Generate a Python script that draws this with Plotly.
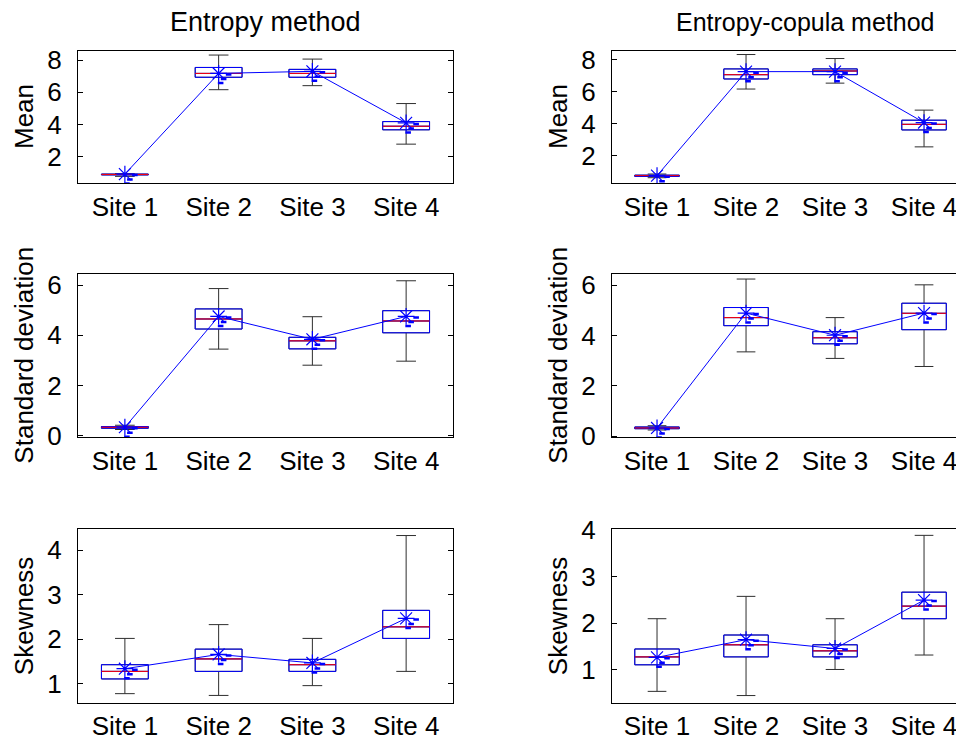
import plotly.graph_objects as go

# ---------------- data ----------------
sites = ["Site 1", "Site 2", "Site 3", "Site 4"]
site_x = [1, 2, 3, 4]

# Entropy method - Mean
ent_mean_lo = [0.78, 6.16, 6.41, 2.78]
ent_mean_q1 = [0.87, 6.93, 6.93, 3.67]
ent_mean_med = [0.90, 7.17, 7.17, 3.89]
ent_mean_q3 = [0.92, 7.54, 7.42, 4.18]
ent_mean_hi = [0.95, 8.31, 8.06, 5.30]
ent_mean_avg = [0.92, 7.17, 7.30, 4.10]

# Entropy method - Standard deviation
ent_std_lo = [0.25, 3.45, 2.81, 2.97]
ent_std_q1 = [0.30, 4.25, 3.46, 4.10]
ent_std_med = [0.34, 4.65, 3.78, 4.57]
ent_std_q3 = [0.37, 5.05, 3.92, 4.98]
ent_std_hi = [0.42, 5.86, 4.74, 6.17]
ent_std_avg = [0.34, 4.75, 3.84, 4.75]

# Entropy method - Skewness
ent_skew_lo = [0.78, 0.74, 0.96, 1.28]
ent_skew_q1 = [1.11, 1.28, 1.28, 2.02]
ent_skew_med = [1.28, 1.56, 1.43, 2.28]
ent_skew_q3 = [1.43, 1.78, 1.55, 2.65]
ent_skew_hi = [2.02, 2.33, 2.02, 4.33]
ent_skew_avg = [1.34, 1.66, 1.47, 2.47]

# Entropy-copula method - Mean
cop_mean_lo = [0.62, 6.17, 6.54, 2.55]
cop_mean_q1 = [0.70, 6.80, 7.07, 3.61]
cop_mean_med = [0.75, 7.07, 7.30, 3.96]
cop_mean_q3 = [0.78, 7.43, 7.43, 4.22]
cop_mean_hi = [0.85, 8.33, 8.08, 4.85]
cop_mean_avg = [0.75, 7.26, 7.26, 4.07]

# Entropy-copula method - Standard deviation
cop_std_lo = [0.25, 3.35, 3.09, 2.77]
cop_std_q1 = [0.30, 4.39, 3.67, 4.23]
cop_std_med = [0.33, 4.71, 3.91, 4.88]
cop_std_q3 = [0.37, 5.11, 4.15, 5.28]
cop_std_hi = [0.42, 6.24, 4.71, 6.01]
cop_std_avg = [0.33, 4.89, 4.01, 4.89]

# Entropy-copula method - Skewness
cop_skew_lo = [0.54, 0.45, 1.01, 1.32]
cop_skew_q1 = [1.11, 1.28, 1.28, 2.10]
cop_skew_med = [1.28, 1.54, 1.41, 2.37]
cop_skew_q3 = [1.45, 1.75, 1.54, 2.67]
cop_skew_hi = [2.10, 2.58, 2.10, 3.89]
cop_skew_avg = [1.27, 1.65, 1.46, 2.50]

col_titles = ["Entropy method", "Entropy-copula method"]
row_labels = ["Mean", "Standard deviation", "Skewness"]
y_ticks = [[2, 4, 6, 8], [0, 2, 4, 6], [1, 2, 3, 4]]

# ---------------- layout geometry ----------------
# page body has an 8px default margin: figure is drawn 8px in from the top-left
OFF = 8
SW, SH = 964, 741                 # screen size
W, H = SW - OFF, SH - OFF         # figure size
FONT = "Liberation Sans, Arial, sans-serif"
FS = 26
col_px = [(78, 453), (612, 964)]                       # screen px
row_px = [(50.7, 183.3), (274, 437.3), (529.3, 703)]   # screen px
x_ranges = [[0.5, 4.5], [0.494, 4.449]]
y_ranges = [
    [[0.35, 8.58], [0.27, 8.57]],
    [[-0.06, 6.44], [-0.04, 6.44]],
    [[0.57, 4.47], [0.29, 4.02]],
]


def fx(px):
    return (px - OFF) / W


def fy(py):
    return 1 - (py - OFF) / H


panels = [
    [(ent_mean_lo, ent_mean_q1, ent_mean_med, ent_mean_q3, ent_mean_hi, ent_mean_avg),
     (cop_mean_lo, cop_mean_q1, cop_mean_med, cop_mean_q3, cop_mean_hi, cop_mean_avg)],
    [(ent_std_lo, ent_std_q1, ent_std_med, ent_std_q3, ent_std_hi, ent_std_avg),
     (cop_std_lo, cop_std_q1, cop_std_med, cop_std_q3, cop_std_hi, cop_std_avg)],
    [(ent_skew_lo, ent_skew_q1, ent_skew_med, ent_skew_q3, ent_skew_hi, ent_skew_avg),
     (cop_skew_lo, cop_skew_q1, cop_skew_med, cop_skew_q3, cop_skew_hi, cop_skew_avg)],
]

BOXW = 0.5
BLUE = "#0000FF"

fig = go.Figure()
layout = dict(
    width=W, height=H, margin=dict(l=0, r=0, t=0, b=0, autoexpand=False),
    paper_bgcolor="white", plot_bgcolor="white",
    showlegend=False, boxmode="overlay",
    font=dict(family=FONT, size=FS, color="black"),
    annotations=[],
)

idx = 0
for r in range(3):
    for c in range(2):
        idx += 1
        xa = "x" if idx == 1 else f"x{idx}"
        ya = "y" if idx == 1 else f"y{idx}"
        lo, q1, med, q3, hi, avg = panels[r][c]
        x0, x1 = col_px[c]
        t0, t1 = row_px[r]
        xr = x_ranges[c]
        yr = y_ranges[r][c]

        # whiskers (dark)
        fig.add_trace(go.Box(
            x=site_x, lowerfence=lo, q1=q1, median=med, q3=q3, upperfence=hi,
            width=BOXW, whiskerwidth=0.42, boxpoints=False,
            line=dict(color="#2e2e2e", width=1), fillcolor="rgba(0,0,0,0)",
            xaxis=xa, yaxis=ya, hoverinfo="skip"))
        # blue box
        fig.add_trace(go.Box(
            x=site_x, lowerfence=q1, q1=q1, median=med, q3=q3, upperfence=q3,
            width=BOXW, whiskerwidth=0, boxpoints=False,
            line=dict(color=BLUE, width=1), fillcolor="rgba(0,0,0,0)",
            xaxis=xa, yaxis=ya, hoverinfo="skip"))
        # red median lines
        mx, my = [], []
        for xi, m in zip(site_x, med):
            mx += [xi - BOXW / 2, xi + BOXW / 2, None]
            my += [m, m, None]
        fig.add_trace(go.Scatter(x=mx, y=my, mode="lines",
                                 line=dict(color="#FF0000", width=1),
                                 xaxis=xa, yaxis=ya, hoverinfo="skip"))
        # mean line with stars
        fig.add_trace(go.Scatter(x=site_x, y=avg, mode="lines+markers",
                                 line=dict(color=BLUE, width=1),
                                 marker=dict(symbol="asterisk-open", size=14, color=BLUE,
                                             line=dict(color=BLUE, width=1.2)),
                                 xaxis=xa, yaxis=ya, hoverinfo="skip"))
        # small blue dash marks beside each star (pixel offsets -> data)
        ppx = (x1 - x0) / (xr[1] - xr[0])
        ppy = (t1 - t0) / (yr[1] - yr[0])
        offs = [(10, 1), (5, 5.5), (2, 9.5)]
        dx, dy = [], []
        for xi, a in zip(site_x, avg):
            for ox, oy in offs:
                dx.append(xi + ox / ppx)
                dy.append(a - oy / ppy)
        fig.add_trace(go.Scatter(x=dx, y=dy, mode="markers",
                                 marker=dict(symbol="line-ew-open", size=4, color=BLUE,
                                             line=dict(color=BLUE, width=2.5)),
                                 xaxis=xa, yaxis=ya, hoverinfo="skip"))

        xkey = "xaxis" if idx == 1 else f"xaxis{idx}"
        ykey = "yaxis" if idx == 1 else f"yaxis{idx}"
        layout[xkey] = dict(
            domain=[fx(x0), min(1.0, fx(x1))], anchor=ya, range=xr, automargin=False,
            tickvals=site_x, ticktext=sites, ticks="", ticklen=0,
            showline=True, linecolor="black", linewidth=1, mirror=True,
            showgrid=False, zeroline=False, ticklabelstandoff=0,
            tickfont=dict(size=FS, family=FONT, color="black"),
        )
        layout[ykey] = dict(
            domain=[fy(t1), fy(t0)], anchor=xa, range=yr, automargin=False,
            tickvals=y_ticks[r], ticks="inside", ticklen=5, tickcolor="black",
            showline=True, linecolor="black", linewidth=1,
            mirror=("ticks" if c == 0 else False),
            showgrid=False, zeroline=False, ticklabelstandoff=10,
            tickfont=dict(size=FS, family=FONT, color="black"),
        )
        # row label
        layout["annotations"].append(dict(
            text=row_labels[r], textangle=-90, showarrow=False,
            xref="paper", yref="paper",
            x=fx(24 if c == 0 else 558), y=fy((t0 + t1) / 2),
            xanchor="center", yanchor="middle",
            font=dict(size=FS, family=FONT, color="black")))

title_x = [265, 805]
title_fs = [27, 25]
for c, t in enumerate(col_titles):
    layout["annotations"].append(dict(
        text=t, showarrow=False, xref="paper", yref="paper",
        x=fx(title_x[c]), y=fy(22),
        xanchor="center", yanchor="middle",
        font=dict(size=title_fs[c], family=FONT, color="black")))

fig.update_layout(**layout)
fig.write_html("out.html")
